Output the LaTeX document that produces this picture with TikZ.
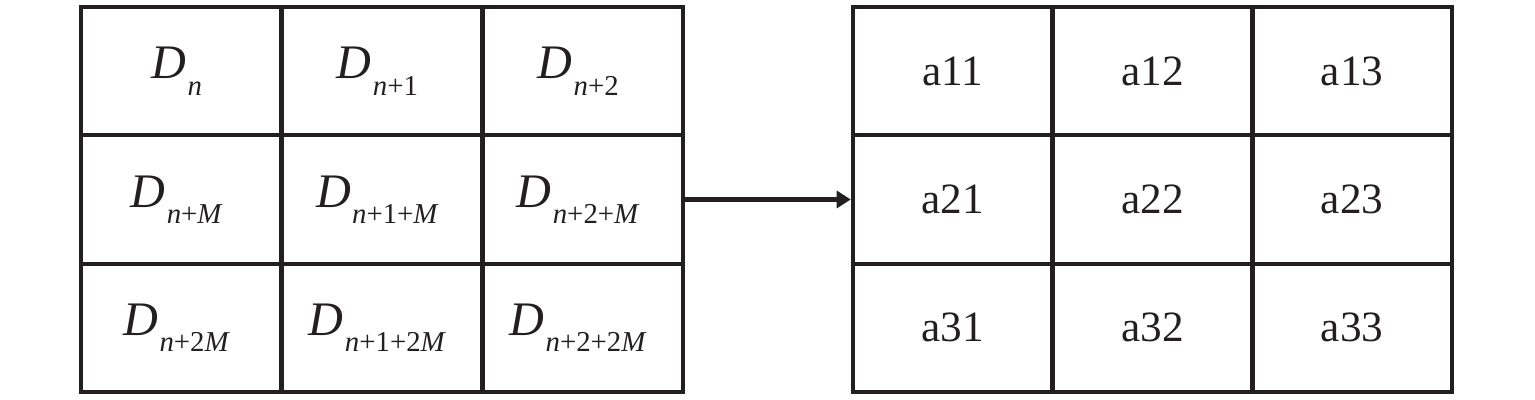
\documentclass[tikz,border=0pt]{standalone}
\usepackage{fontspec}
\setmainfont{Liberation Serif}
\usetikzlibrary{arrows.meta}
\definecolor{ink}{HTML}{231F20}
\newcommand{\DS}[1]{{\fontsize{13.7}{15}\selectfont\itshape D}\kern0.03em\raisebox{-4.6pt}{\fontsize{8.2}{9}\selectfont #1}\kern2.6pt}
\newcommand{\iM}{\textit{M}}
\newcommand{\iN}{\textit{n}}
\begin{document}
\begin{tikzpicture}[x=0.01cm,y=-0.01cm,
  cellL/.style={draw=ink,line width=1.2pt,minimum width=2.007cm,minimum height=1.283cm,inner sep=0pt,font=\fontsize{12.3}{14}\selectfont,text=ink},
  cellR/.style={draw=ink,line width=1.2pt,minimum width=1.997cm,minimum height=1.283cm,inner sep=0pt,font=\fontsize{12.3}{14}\selectfont,text=ink},
  outer/.style={draw=ink,line width=1.3pt},
  link/.style={draw=ink,line width=1.2pt,-{Triangle[length=4pt,width=4.8pt]}}]
\useasboundingbox (0,0) rectangle (1535,400);
% left grid
\node[cellL] (l11) at (181.3,71.2) {\DS{\iN}};
\node[cellL] (l12) at (382,71.2) {\DS{\iN+1}};
\node[cellL] (l13) at (582.7,71.2) {\DS{\iN+2}};
\node[cellL] (l21) at (181.3,199.5) {\DS{\iN+\iM}};
\node[cellL] (l22) at (382,199.5) {\DS{\iN+1+\iM}};
\node[cellL] (l23) at (582.7,199.5) {\DS{\iN+2+\iM}};
\node[cellL] (l31) at (181.3,327.8) {\DS{\iN+2\iM}};
\node[cellL] (l32) at (382,327.8) {\DS{\iN+1+2\iM}};
\node[cellL] (l33) at (582.7,327.8) {\DS{\iN+2+2\iM}};
\node[outer,inner sep=0pt,minimum width=6.02cm,minimum height=3.85cm] (L) at (382,199.5) {};
% right grid
\node[cellR] (r11) at (952.8,71.2) {a11};
\node[cellR] (r12) at (1152.5,71.2) {a12};
\node[cellR] (r13) at (1352.2,71.2) {a13};
\node[cellR] (r21) at (952.8,199.5) {a21};
\node[cellR] (r22) at (1152.5,199.5) {a22};
\node[cellR] (r23) at (1352.2,199.5) {a23};
\node[cellR] (r31) at (952.8,327.8) {a31};
\node[cellR] (r32) at (1152.5,327.8) {a32};
\node[cellR] (r33) at (1352.2,327.8) {a33};
\node[outer,inner sep=0pt,minimum width=5.99cm,minimum height=3.85cm] (R) at (1152.5,199.5) {};
% connector
\draw[link] (l23.east) -- (r21.west);
\end{tikzpicture}
\end{document}
